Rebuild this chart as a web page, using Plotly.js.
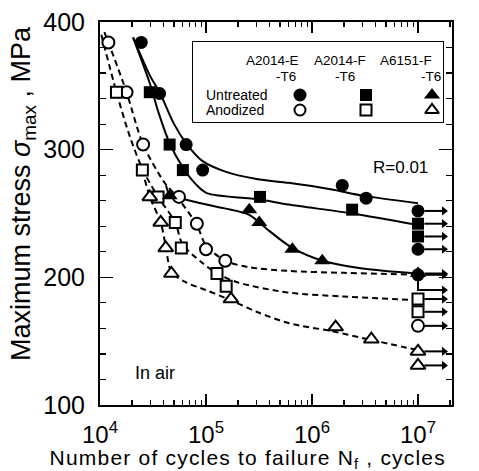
<!DOCTYPE html>
<html>
<head>
<meta charset="utf-8">
<script src="https://cdn.plot.ly/plotly-3.0.1.min.js"></script>
<style>
html,body{margin:0;padding:0;background:#fff;}
#chart{width:479px;height:471px;}
.annotation[data-index="10"] text{letter-spacing:1.2px;}
</style>
</head>
<body>
<div id="chart"></div>
<script>
// ---------- data ----------
const untrE_N = [24500, 36500, 65000, 93000, 1.93e6, 3.24e6];
const untrE_S = [384, 344, 304, 284, 272, 262];
const untrE_runS = [252, 222, 202];

const untrF_N = [29500, 45400, 60500, 323000, 2.39e6];
const untrF_S = [345, 304, 284, 263, 253];
const untrF_runS = [242, 232];

const untr6_N = [45400, 256000, 318000, 653000, 1.25e6];
const untr6_S = [264, 253, 243, 222, 213];
const untr6_runS = [203];

const anoE_N = [12000, 17800, 25500, 55600, 82000, 100000, 152000];
const anoE_S = [384, 345, 304, 263, 242, 222, 213];
const anoE_runS = [162];

const anoF_N = [14300, 25100, 35300, 51300, 58500, 127000, 155000];
const anoF_S = [345, 284, 263, 243, 223, 203, 193];
const anoF_runS = [183, 173];

const ano6_N = [29500, 37400, 41700, 47100, 172000, 1.67e6, 3.63e6];
const ano6_S = [263, 243, 223, 203, 183, 161, 151.5];
const ano6_runS = [142, 131];

const runoutN = 1e7;
// an extra run-out arrow hanging below the overlapping marks at ~202 MPa
const extraArrowFromS = 201;
const extraArrowS = 190;

// fitted S-N curves
const fitUE_N = [20500, 30000, 36500, 50000, 65000, 93000, 150000, 300000, 600000, 1.5e6, 3e6, 1e7];
const fitUE_S = [388, 357, 345, 320, 305, 291, 283, 277, 274, 269, 264, 258];
const fitUF_N = [20500, 29500, 36000, 45400, 60500, 80000, 101600, 323000, 600000, 2.4e6, 1e7];
const fitUF_S = [388, 352, 328, 305, 286, 273, 266, 261, 257, 250, 241];
const fitU6_N = [42000, 45400, 80000, 150000, 256000, 400000, 653000, 1.25e6, 3e6, 1e7];
const fitU6_S = [272, 265, 259, 254, 249, 236, 223, 213, 207, 203];
const fitAE_N = [11000, 12000, 17800, 25500, 40000, 55600, 82000, 100000, 152000, 250000, 600000, 2e6, 1e7];
const fitAE_S = [392, 384, 345, 304, 275, 261, 241, 225, 213, 208, 205, 203.5, 202];
const fitAF_N = [10300, 14300, 19000, 25100, 35300, 51300, 60000, 90000, 127000, 200000, 600000, 2e6, 1e7];
const fitAF_S = [390, 345, 311, 285, 263, 243, 226, 212, 203, 196, 188, 185, 182];
const fitA6_N = [25100, 29500, 37400, 42000, 47100, 65000, 100000, 172000, 300000, 608000, 1.5e6, 3.6e6, 1e7];
const fitA6_S = [284, 263, 243, 223, 204, 196, 190, 182, 173, 164, 158, 151, 143];

// legend categories
const alloys = ['A2014-E-T6', 'A2014-F-T6', 'A6151-F-T6'];
const treatments = ['Untreated', 'Anodized'];
const alloyHead = ['A2014-E', 'A2014-F', 'A6151-F'];
const alloyTemper = ['-T6', '-T6', '-T6'];

const xTickVals = [1e4, 1e5, 1e6, 1e7];
const xTickText = ['10<sup>4</sup>', '10<sup>5</sup>', '10<sup>6</sup>', '10<sup>7</sup>'];
const yTickVals = [100, 200, 300, 400];
const xTitle = 'Number of cycles to failure N<sub>f</sub> , cycles';
const yTitle = 'Maximum stress <i>σ</i><sub>max</sub> , MPa';

// ---------- styling ----------
const FONT = 'Liberation Sans, Arial, Helvetica, sans-serif';
const L = 100, R = 27, T = 22, B = 66, W = 479, H = 471;
const PW = W - L - R, PH = H - T - B;
const pxX = p => (p - L) / PW;
const pxY = p => 1 - (p - T) / PH;

// minor tick positions 2..9 x 10^n
const xMinor = [];
[1e4, 1e5, 1e6, 1e7].forEach(d => { for (let k = 2; k <= 9; k++) xMinor.push(k * d); });

function pts(N, S, run, sym, size, filled) {
  return {
    type: 'scatter', mode: 'markers', xaxis: 'x', yaxis: 'y',
    x: N.concat(run.map(() => runoutN)),
    y: S.concat(run),
    marker: {
      symbol: sym, size: size,
      color: filled ? '#000' : '#fff',
      line: {color: '#000', width: filled ? 0 : 2}
    },
    showlegend: false, hoverinfo: 'x+y'
  };
}
function fit(N, S, dashed) {
  return {
    type: 'scatter', mode: 'lines', xaxis: 'x', yaxis: 'y',
    x: N, y: S,
    line: {color: '#000', width: 2, shape: 'spline', smoothing: 0.8, dash: dashed ? '6px,4px' : 'solid'},
    showlegend: false, hoverinfo: 'skip'
  };
}
function legendPt(ai, ti, sym, size, filled) {
  return {
    type: 'scatter', mode: 'markers', xaxis: 'x2', yaxis: 'y2',
    x: [alloys[ai]], y: [treatments[ti]],
    marker: {symbol: sym, size: size, color: filled ? '#000' : '#fff',
             line: {color: '#000', width: filled ? 0 : 2}},
    showlegend: false, hoverinfo: 'skip'
  };
}

// run-out arrows (shafts + heads)
const tailN = runoutN * Math.pow(10, 0.06);
const headN = Math.pow(10, 7.245);
const allRun = [].concat(untrE_runS, untrF_runS, untr6_runS, anoE_runS, anoF_runS, ano6_runS);
const shaftX = [], shaftY = [];
allRun.forEach(s => { shaftX.push(tailN, headN, null); shaftY.push(s, s, null); });
shaftX.push(runoutN, runoutN, headN, null);
shaftY.push(extraArrowFromS, extraArrowS, extraArrowS, null);
const headS = allRun.concat([extraArrowS]);

const data = [
  fit(fitUE_N, fitUE_S, false),
  fit(fitUF_N, fitUF_S, false),
  fit(fitU6_N, fitU6_S, false),
  fit(fitAE_N, fitAE_S, true),
  fit(fitAF_N, fitAF_S, true),
  fit(fitA6_N, fitA6_S, true),
  {type: 'scatter', mode: 'lines', x: shaftX, y: shaftY, line: {color: '#000', width: 2},
   connectgaps: false, showlegend: false, hoverinfo: 'skip'},
  {type: 'scatter', mode: 'markers', x: headS.map(() => headN), y: headS,
   marker: {symbol: 'triangle-right', size: 8, color: '#000'}, showlegend: false, hoverinfo: 'skip'},
  pts(anoE_N, anoE_S, anoE_runS, 'circle', 12, false),
  pts(anoF_N, anoF_S, anoF_runS, 'square', 11, false),
  pts(ano6_N, ano6_S, ano6_runS, 'triangle-up', 13, false),
  pts(untrE_N, untrE_S, untrE_runS, 'circle', 13, true),
  pts(untrF_N, untrF_S, untrF_runS, 'square', 12, true),
  pts(untr6_N, untr6_S, untr6_runS, 'triangle-up', 14, true),
  legendPt(0, 0, 'circle', 13, true),
  legendPt(1, 0, 'square', 12, true),
  legendPt(2, 0, 'triangle-up', 14, true),
  legendPt(0, 1, 'circle', 11, false),
  legendPt(1, 1, 'square', 11, false),
  legendPt(2, 1, 'triangle-up', 12, false)
];

const annotations = [];
const headX = [272, 340, 406];
const temperX = [286, 345, 431];
alloyHead.forEach((t, i) => annotations.push({
  xref: 'paper', yref: 'paper', x: pxX(headX[i]), y: pxY(61), text: t, showarrow: false,
  xanchor: 'center', yanchor: 'middle', font: {family: FONT, size: 13.5, color: '#000'}
}));
alloyTemper.forEach((t, i) => annotations.push({
  xref: 'paper', yref: 'paper', x: pxX(temperX[i]), y: pxY(76), text: t, showarrow: false,
  xanchor: 'center', yanchor: 'middle', font: {family: FONT, size: 13.5, color: '#000'}
}));
const rowY = [95, 110];
treatments.forEach((t, i) => annotations.push({
  xref: 'paper', yref: 'paper', x: pxX(204), y: pxY(rowY[i]), text: t, showarrow: false,
  xanchor: 'left', yanchor: 'middle', font: {family: FONT, size: 14, color: '#000'}
}));
annotations.push({
  xref: 'paper', yref: 'paper', x: pxX(400), y: pxY(167), text: 'R=0.01', showarrow: false,
  xanchor: 'center', yanchor: 'middle', font: {family: FONT, size: 17, color: '#000'}
});
annotations.push({
  xref: 'paper', yref: 'paper', x: pxX(155), y: pxY(373), text: 'In air', showarrow: false,
  xanchor: 'center', yanchor: 'middle', font: {family: FONT, size: 18, color: '#000'}
});
// axis titles, placed where the reference puts them (index 10 and 11)
annotations.push({
  xref: 'paper', yref: 'paper', x: pxX(248), y: pxY(459), text: xTitle, showarrow: false,
  xanchor: 'center', yanchor: 'middle', font: {family: FONT, size: 21, color: '#000'}
});
annotations.push({
  xref: 'paper', yref: 'paper', x: pxX(23), y: pxY(194), text: yTitle, showarrow: false,
  textangle: -90, xanchor: 'center', yanchor: 'middle', font: {family: FONT, size: 27, color: '#000'}
});

const layout = {
  width: W, height: H,
  margin: {l: L, r: R, t: T, b: B, pad: 0},
  paper_bgcolor: '#fff', plot_bgcolor: '#fff',
  font: {family: FONT, color: '#000'},
  showlegend: false,
  xaxis: {
    type: 'log', range: [4, 4 + PW / 106],
    tickmode: 'array', tickvals: xTickVals, ticktext: xTickText,
    ticks: 'inside', ticklen: 11, tickwidth: 1.5, tickcolor: '#000',
    minor: {ticks: 'inside', ticklen: 5, tickwidth: 1.2, tickcolor: '#000', tickmode: 'array', tickvals: xMinor, showgrid: false},
    showline: true, linewidth: 2, linecolor: '#000', mirror: 'ticks',
    showgrid: false, zeroline: false,
    tickfont: {family: FONT, size: 24, color: '#000'},
    ticklabelstandoff: 7
  },
  yaxis: {
    range: [100, 400], tickmode: 'array', tickvals: yTickVals,
    ticks: 'inside', ticklen: 13, tickwidth: 1.5, tickcolor: '#000',
    minor: {ticks: 'inside', ticklen: 6, tickwidth: 1.2, tickcolor: '#000', dtick: 20, showgrid: false},
    showline: true, linewidth: 2, linecolor: '#000', mirror: 'ticks',
    showgrid: false, zeroline: false,
    tickfont: {family: FONT, size: 25, color: '#000'},
    ticklabelstandoff: 8
  },
  xaxis2: {
    domain: [pxX(193), pxX(443)], anchor: 'y2', type: 'category',
    categoryorder: 'array', categoryarray: alloys,
    range: [-(300 - 193) / 66, -(300 - 193) / 66 + 250 / 66],
    visible: false, fixedrange: true
  },
  yaxis2: {
    domain: [pxY(122), pxY(42)], anchor: 'x2', type: 'category',
    categoryorder: 'array', categoryarray: treatments,
    range: [1 + (122 - 110) / 15, -(95 - 42) / 15],
    visible: false, fixedrange: true
  },
  shapes: [{
    type: 'rect', xref: 'paper', yref: 'paper',
    x0: pxX(193), x1: pxX(443), y0: pxY(122), y1: pxY(42),
    line: {color: '#000', width: 2}, fillcolor: 'rgba(0,0,0,0)', layer: 'below'
  }],
  annotations: annotations
};

Plotly.newPlot('chart', data, layout, {displayModeBar: false, staticPlot: true});
</script>
</body>
</html>
